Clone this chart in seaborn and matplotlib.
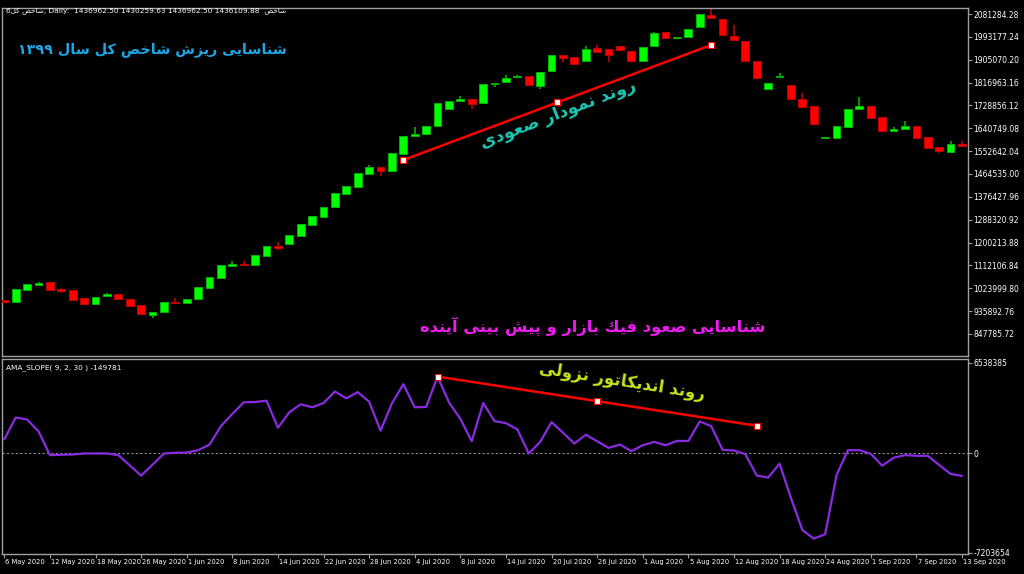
import matplotlib
matplotlib.use("Agg")
import numpy as np
import pandas as pd
import seaborn as sns
import matplotlib.pyplot as plt

# ---- data (prices in thousands) ----
open_k = [979, 972, 1018, 1038, 1047, 1020, 1016, 987, 965, 993,
          1001, 984, 960, 922, 934, 972, 968, 984, 1026, 1065,
          1111, 1118, 1114, 1150, 1187, 1196, 1227, 1268, 1298, 1337,
          1386, 1416, 1463, 1492, 1477, 1543, 1610, 1618, 1651, 1714,
          1745, 1752, 1739, 1813, 1819, 1838, 1841, 1805, 1860, 1923,
          1916, 1899, 1951, 1945, 1958, 1940, 1901, 1959, 2012, 1989,
          1993, 2032, 2077, 2063, 1996, 1976, 1901, 1793, 1838, 1806,
          1755, 1725, 1604, 1604, 1646, 1714, 1727, 1684, 1629, 1637,
          1648, 1607, 1569, 1550, 1581]
close_k = [972, 1020, 1039, 1043, 1018, 1015, 979, 965, 990, 1001,
           982, 957, 926, 934, 970, 967, 983, 1029, 1068, 1114,
           1119, 1114, 1152, 1188, 1179, 1229, 1272, 1302, 1337, 1390,
           1420, 1467, 1493, 1477, 1547, 1612, 1618, 1651, 1737, 1745,
           1752, 1734, 1813, 1816, 1835, 1843, 1808, 1858, 1923, 1912,
           1890, 1947, 1935, 1923, 1944, 1899, 1953, 2007, 1990, 1993,
           2025, 2080, 2067, 2001, 1982, 1901, 1833, 1814, 1843, 1755,
           1723, 1658, 1607, 1651, 1716, 1727, 1682, 1629, 1639, 1648,
           1604, 1566, 1552, 1581, 1574]
high_k = [979, 1020, 1042, 1047, 1047, 1026, 1016, 987, 990, 1006,
          1001, 984, 960, 934, 970, 987, 983, 1029, 1068, 1114,
          1129, 1128, 1152, 1188, 1202, 1229, 1272, 1302, 1337, 1393,
          1420, 1467, 1499, 1492, 1547, 1612, 1646, 1651, 1737, 1745,
          1766, 1752, 1813, 1816, 1845, 1847, 1841, 1858, 1923, 1923,
          1916, 1958, 1963, 1945, 1958, 1940, 1953, 2012, 2012, 1993,
          2025, 2080, 2103, 2063, 2039, 1976, 1901, 1814, 1854, 1806,
          1777, 1725, 1607, 1651, 1716, 1761, 1727, 1684, 1646, 1669,
          1648, 1607, 1569, 1591, 1591]
low_k = [972, 972, 1018, 1038, 1018, 1005, 979, 960, 965, 993,
         982, 957, 926, 911, 934, 965, 968, 984, 1026, 1065,
         1111, 1110, 1114, 1150, 1172, 1196, 1227, 1268, 1298, 1337,
         1386, 1416, 1463, 1457, 1477, 1543, 1610, 1618, 1651, 1714,
         1745, 1715, 1739, 1799, 1819, 1835, 1808, 1793, 1860, 1897,
         1890, 1899, 1935, 1897, 1944, 1899, 1901, 1959, 1990, 1984,
         1993, 2032, 2062, 2001, 1982, 1901, 1833, 1791, 1838, 1755,
         1723, 1658, 1604, 1604, 1646, 1714, 1682, 1629, 1629, 1637,
         1604, 1566, 1544, 1550, 1570]

# AMA slope indicator (thousands)
ama_k = [1001, 2574, 2431, 1573, -143, -119, -95, -24, -24, -24,
         -143, -882, -1621, -834, -24, 24, 48, 214, 620, 1954,
         2836, 3670, 3694, 3789, 1835, 2955, 3527, 3313, 3623, 4457,
         3956, 4409, 3718, 1621, 3599, 4981, 3313, 3337, 5529, 3670,
         2479, 858, 3623, 2312, 2169, 1716, -24, 810, 2240, 1478,
         691, 1335, 858, 381, 620, 143, 572, 810, 572, 882,
         882, 2288, 1954, 238, 191, -72, -1621, -1764, -763, -3241,
         -5553, -6173, -5863, -1573, 214, 214, -48, -906, -334, -143,
         -191, -191, -858, -1501, -1644]

date_labels = ["6 May 2020", "12 May 2020", "18 May 2020", "26 May 2020", "1 Jun 2020",
               "8 Jun 2020", "14 Jun 2020", "22 Jun 2020", "28 Jun 2020", "4 Jul 2020",
               "8 Jul 2020", "14 Jul 2020", "20 Jul 2020", "26 Jul 2020", "1 Aug 2020",
               "5 Aug 2020", "12 Aug 2020", "18 Aug 2020", "24 Aug 2020", "1 Sep 2020",
               "7 Sep 2020", "13 Sep 2020"]

price_ticks = [2081284.28, 1993177.24, 1905070.20, 1816963.16, 1728856.12,
               1640749.08, 1552642.04, 1464535.00, 1376427.96, 1288320.92,
               1200213.88, 1112106.84, 1023999.80, 935892.76, 847785.72]
ama_ticks = [6538385, 0, -7203654]

# trend lines drawn on the chart
price_trend_bar = [35, 48.5, 62]
price_trend_val = [1518500, 1740150, 1961800]
ama_trend_bar = [38, 52, 66]
ama_trend_val = [5530000, 3754000, 1978000]

# ---- persian text shaping (matplotlib has no arabic shaping) ----
FORMS = {
    'ا': ('\uFE8D', '\uFE8E', None, None),
    'آ': ('\uFE81', '\uFE82', None, None),
    'ب': ('\uFE8F', '\uFE90', '\uFE91', '\uFE92'),
    'پ': ('\uFB56', '\uFB57', '\uFB58', '\uFB59'),
    'ت': ('\uFE95', '\uFE96', '\uFE97', '\uFE98'),
    'خ': ('\uFEA5', '\uFEA6', '\uFEA7', '\uFEA8'),
    'د': ('\uFEA9', '\uFEAA', None, None),
    'ر': ('\uFEAD', '\uFEAE', None, None),
    'ز': ('\uFEAF', '\uFEB0', None, None),
    'س': ('\uFEB1', '\uFEB2', '\uFEB3', '\uFEB4'),
    'ش': ('\uFEB5', '\uFEB6', '\uFEB7', '\uFEB8'),
    'ص': ('\uFEB9', '\uFEBA', '\uFEBB', '\uFEBC'),
    'ع': ('\uFEC9', '\uFECA', '\uFECB', '\uFECC'),
    'ف': ('\uFED1', '\uFED2', '\uFED3', '\uFED4'),
    'ك': ('\uFED9', '\uFEDA', '\uFEDB', '\uFEDC'),
    'ک': ('\uFB8E', '\uFB8F', '\uFB90', '\uFB91'),
    'ل': ('\uFEDD', '\uFEDE', '\uFEDF', '\uFEE0'),
    'م': ('\uFEE1', '\uFEE2', '\uFEE3', '\uFEE4'),
    'ن': ('\uFEE5', '\uFEE6', '\uFEE7', '\uFEE8'),
    'ه': ('\uFEE9', '\uFEEA', '\uFEEB', '\uFEEC'),
    'و': ('\uFEED', '\uFEEE', None, None),
    'ی': ('\uFBFC', '\uFBFD', '\uFBFE', '\uFBFF'),
}


def shape_word(w):
    out = []
    for i, ch in enumerate(w):
        if ch not in FORMS:
            out.append(ch)
            continue
        prev = w[i - 1] if i > 0 else None
        nxt = w[i + 1] if i < len(w) - 1 else None
        jp = prev in FORMS and FORMS[prev][2] is not None
        jn = FORMS[ch][2] is not None and nxt in FORMS
        iso, fin, ini, med = FORMS[ch]
        out.append(med if (jp and jn) else fin if jp else ini if jn else iso)
    return ''.join(out)


def fa(text):
    words = []
    for w in text.split(' '):
        if all(c in '۰۱۲۳۴۵۶۷۸۹0123456789' for c in w):
            words.append(w)
        else:
            words.append(shape_word(w)[::-1])
    return ' '.join(words[::-1])


# ---- figure ----
sns.set_theme(style="dark", rc={"axes.facecolor": "black", "figure.facecolor": "black"})
plt.rcParams['font.family'] = ['DejaVu Sans']

fig = plt.figure(figsize=(10.24, 5.74), dpi=100, facecolor='black')
ax = fig.add_axes([0.002, 0.380, 0.943, 0.606])
ax2 = fig.add_axes([0.002, 0.035, 0.943, 0.340], sharex=ax)

df = pd.DataFrame({
    'bar': np.arange(len(open_k)),
    'open': np.array(open_k) * 1000.0,
    'close': np.array(close_k) * 1000.0,
    'high': np.array(high_k) * 1000.0,
    'low': np.array(low_k) * 1000.0,
    'ama': np.array(ama_k) * 1000.0,
})
up = df['close'] >= df['open']
body_col = np.where(up, '#00ff00', '#ff0000')
wick_col = np.where(up, '#00b000', '#c00000')
body_low = df[['open', 'close']].min(axis=1)
body_h = (df['close'] - df['open']).abs().clip(lower=2500)

ax.vlines(df['bar'], df['low'], df['high'], colors=wick_col, lw=1.2, zorder=2)
ax.bar(df['bar'], body_h, bottom=body_low, width=0.68, color=body_col,
       edgecolor=wick_col, linewidth=0.7, zorder=3)

ax.plot(price_trend_bar[::2], price_trend_val[::2], color='red', lw=1.8, zorder=4)
ax.plot(price_trend_bar, price_trend_val, 's', mfc='white', mec='red', ms=4.5, mew=0.8, zorder=5)

ax.set_xlim(-0.2, 84.5)
ax.set_ylim(763100, 2104400)

# indicator panel
sns.lineplot(data=df, x='bar', y='ama', ax=ax2, color='#8a2be2', lw=1.6, zorder=3)
ax2.axhline(0, color='#909090', lw=0.8, ls=(0, (2, 2)), zorder=1)
ax2.plot(ama_trend_bar[::2], ama_trend_val[::2], color='red', lw=1.8, zorder=4)
ax2.plot(ama_trend_bar, ama_trend_val, 's', mfc='white', mec='red', ms=4.5, mew=0.8, zorder=5)
ax2.set_ylim(-7280000, 6820000)

for a in (ax, ax2):
    a.set_facecolor('black')
    a.set_xlabel('')
    a.set_ylabel('')
    a.grid(False)
    a.yaxis.tick_right()
    for s in a.spines.values():
        s.set_color('#a0a0a0')
        s.set_linewidth(1)
    a.tick_params(axis='y', colors='#a0a0a0', labelcolor='white', labelsize=5.5,
                  length=3, width=0.8, pad=1, right=True, left=False)

ax.set_yticks(price_ticks)
ax.set_yticklabels([f"{v:.2f}" for v in price_ticks])
ax.tick_params(axis='x', bottom=False, labelbottom=False)

ax2.set_yticks(ama_ticks)
ax2.set_yticklabels([str(v) for v in ama_ticks])
date_bars = list(range(0, 85, 4))
ax2.set_xticks(date_bars)
ax2.set_xticklabels([])
ax2.tick_params(axis='x', colors='#a0a0a0', length=3, width=0.8, bottom=True, direction='out')
for b, lab in zip(date_bars, date_labels):
    ax2.text(b + 0.1, -0.025, lab, transform=ax2.get_xaxis_transform(), ha='left', va='top',
             color='white', fontsize=4.9, clip_on=False)

# texts
fig.text(0.006, 0.986, "6" + fa("شاخص کل") + ", Daily:  1436962.50 1430259.63 1436962.50 1436109.88  " + fa("شاخص"),
         color='white', fontsize=5.3, va='top', ha='left')
ax2.text(0.004, 0.97, "AMA_SLOPE( 9, 2, 30 ) -149781", transform=ax2.transAxes,
         color='white', fontsize=5.3, va='top', ha='left')

ax.text(13.0, 1946000, fa("شناسایی ریزش شاخص کل سال ۱۳۹۹"), color='#1ea7e6',
        fontsize=10.3, fontweight='bold', ha='center', va='center')
ax.text(51.6, 875000, fa("شناسایی صعود فیك بازار و پیش بینی آینده"), color='#f21af2',
        fontsize=11.7, fontweight='bold', ha='center', va='center')
ax.text(48.6, 1696000, fa("روند نمودار صعودی"), color='#1ec8b4', fontsize=12.5,
        fontweight='bold', ha='center', va='center', rotation=21, rotation_mode='anchor')
ax2.text(54.2, 5200000, fa("روند اندیکاتور نزولی"), color='#c4e61a', fontsize=12,
         fontweight='bold', ha='center', va='center', rotation=-9, rotation_mode='anchor')

fig.savefig('out.png', dpi=100, facecolor='black')
